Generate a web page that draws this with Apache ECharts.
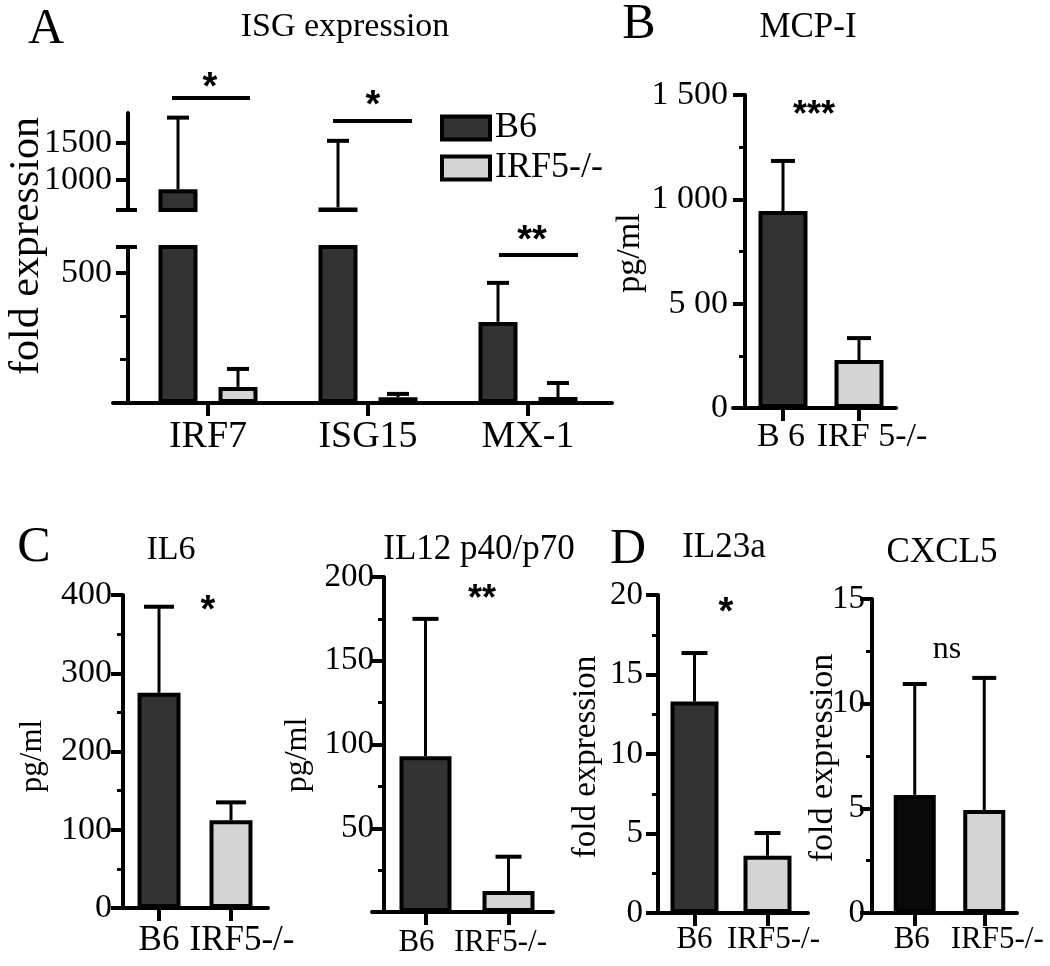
<!DOCTYPE html>
<html><head><meta charset="utf-8">
<script src="https://cdn.jsdelivr.net/npm/echarts@6/dist/echarts.min.js"></script>
<style>html,body{margin:0;padding:0;background:#fff}#c{width:1050px;height:966px}</style>
</head><body><div id="c"></div>
<script>
// ---------- DATA ----------
const A_CATS = ['IRF7', 'ISG15', 'MX-1'];
const A_B6 = [878, 635, 312];
const A_B6_UPPER = [1838, 1527, 462];
const A_KO = [62, 22, 23];
const A_KO_UPPER = [131, 35, 77];
const A_LOWER_TICKS = [500, 600];
const A_LOWER_MINOR = [166.67, 333.33];
const A_LOWER_LABELS = [500];
const A_UPPER_TICKS = [600, 1000, 1500];
const A_UPPER_LABELS = [1000, 1500];
const LEGEND_NAMES = ['B6', 'IRF5-/-'];

const B_CATS = ['B 6', 'IRF 5-/-'];
const B_VALS = [944, 230];
const B_UPPER = [1184, 335];
const B_TICK_TEXT = { 0: '0', 500: '5 00', 1000: '1 000', 1500: '1 500' };

const GROUP_CATS = ['B6', 'IRF5-/-'];
const IL6_VALS = [275, 112];
const IL6_UPPER = [385, 135];
const IL12_VALS = [93, 12.5];
const IL12_UPPER = [175, 33];
const IL12_LABELS = [50, 100, 150, 200];
const IL23_VALS = [13.3, 3.6];
const IL23_UPPER = [16.35, 5.03];
const CXCL5_VALS = [5.64, 4.92];
const CXCL5_UPPER = [10.94, 11.23];

// ---------- STYLE ----------
const SERIF = '"Liberation Serif", "Times New Roman", serif';
const DARK = '#333333', LIGHT = '#d4d4d4', BLACK = '#0a0a0a';
const LINE = { color: '#000', width: 4 };

const grids = [], xAxes = [], yAxes = [], series = [];
const addGrid = g => (grids.push(g), grids.length - 1);
const addX = a => (xAxes.push(a), xAxes.length - 1);
const addY = a => (yAxes.push(a), yAxes.length - 1);

function errRender(offsetPx, capHalf) {
  return function (params, api) {
    const c = api.value(0), m = api.value(1), u = api.value(2);
    const p0 = api.coord([c, m]), p1 = api.coord([c, u]);
    const x = p0[0] + offsetPx;
    return { type: 'group', children: [
      { type: 'line', shape: { x1: x, y1: p0[1], x2: x, y2: p1[1] }, style: { stroke: '#000', lineWidth: 3 } },
      { type: 'line', shape: { x1: x - capHalf, y1: p1[1], x2: x + capHalf, y2: p1[1] }, style: { stroke: '#000', lineWidth: 4 } }
    ]};
  };
}

function helperLine(left, width, top, height) {
  const g = addGrid({ left, top, width, height });
  addX({ type: 'value', gridIndex: g, min: 0, max: 1, axisLine: { show: true, onZero: false, lineStyle: LINE },
         axisTick: { show: false }, axisLabel: { show: false }, splitLine: { show: false } });
  addY({ type: 'value', gridIndex: g, min: 0, max: 1, show: false });
}

function mainY(g, o) {
  const ax = { type: 'value', gridIndex: g, position: 'left', min: o.min, max: o.max, offset: o.offset || 0,
    axisLine: { show: true, onZero: false, lineStyle: LINE },
    axisTick: { show: true, length: 12, lineStyle: { color: '#000', width: 4 } },
    minorTick: { show: !!o.minor, splitNumber: 2, length: 6, lineStyle: { color: '#000', width: 3 } },
    axisLabel: { margin: o.margin, fontFamily: SERIF, fontSize: o.fontSize, color: '#000', formatter: o.fmt || (v => String(v)) },
    splitLine: { show: false }, minorSplitLine: { show: false } };
  if (o.interval) ax.interval = o.interval;
  if (o.ticks) ax.axisTick.customValues = o.ticks;
  if (o.labels) ax.axisLabel.customValues = o.labels;
  return addY(ax);
}
function extraTicks(g, min, max, vals, len, inside, width) {
  return addY({ type: 'value', gridIndex: g, position: 'left', offset: 0, min, max,
    axisLine: { show: false },
    axisTick: { show: true, inside: !!inside, length: len, customValues: vals, lineStyle: { color: '#000', width: width } },
    axisLabel: { show: false }, splitLine: { show: false } });
}
function catX(g, cats, o) {
  const sh = o.shift || [0, 0];
  const names = cats.map((c, i) => 'c' + i);
  const rich = {};
  cats.forEach((c, i) => {
    const s = sh[i];
    rich['c' + i] = { fontFamily: SERIF, fontSize: o.fontSize, color: '#000',
      padding: [0, s < 0 ? -2 * s : 0, 0, s > 0 ? 2 * s : 0] };
  });
  return addX({ type: 'category', gridIndex: g, data: cats, show: o.show !== false,
    axisLine: { show: false, onZero: false },
    axisTick: { show: true, alignWithLabel: true, length: 13, lineStyle: { color: '#000', width: 4 } },
    axisLabel: { interval: 0, margin: o.margin, fontFamily: SERIF, fontSize: o.fontSize, color: '#000',
      formatter: (v, i) => '{' + names[i] + '|' + v + '}', rich },
    splitLine: { show: false } });
}

// ---------- PANEL A (broken axis) ----------
const A_BAR_W = 39, A_GAP = 21;
const A_OFF = (A_BAR_W + A_GAP) / 2;
function aSeries(xi, yi) {
  series.push({ type: 'bar', name: LEGEND_NAMES[0], xAxisIndex: xi, yAxisIndex: yi, data: A_B6, barWidth: A_BAR_W,
    barGap: (A_GAP / A_BAR_W * 100) + '%', clip: true, itemStyle: { color: DARK, borderColor: '#000', borderWidth: 4 } });
  series.push({ type: 'bar', name: LEGEND_NAMES[1], xAxisIndex: xi, yAxisIndex: yi, data: A_KO, barWidth: A_BAR_W,
    clip: true, itemStyle: { color: LIGHT, borderColor: '#000', borderWidth: 4 } });
  series.push({ type: 'custom', xAxisIndex: xi, yAxisIndex: yi, clip: true, z: 3, renderItem: errRender(-A_OFF, 11),
    data: A_CATS.map((c, i) => [i, A_B6[i], A_B6_UPPER[i]]) });
  series.push({ type: 'custom', xAxisIndex: xi, yAxisIndex: yi, clip: true, z: 3, renderItem: errRender(A_OFF, 11),
    data: A_CATS.map((c, i) => [i, A_KO[i], A_KO_UPPER[i]]) });
}
{
  const gU = addGrid({ left: 128, top: 113, width: 480, height: 97 });
  const xU = catX(gU, A_CATS, { show: false, margin: 15, fontSize: 38 });
  const yU = mainY(gU, { min: 600, max: 1900, ticks: A_UPPER_TICKS, labels: A_UPPER_LABELS, margin: 16, fontSize: 34 });
  extraTicks(gU, 600, 1900, [600], 9, true, 4);
  aSeries(xU, yU);
  const gL = addGrid({ left: 128, top: 247, width: 480, height: 156 });
  const xL = catX(gL, A_CATS, { margin: 15, fontSize: 38 });
  const yL = mainY(gL, { min: 0, max: 600, ticks: A_LOWER_TICKS, labels: A_LOWER_LABELS, margin: 16, fontSize: 34 });
  extraTicks(gL, 0, 600, A_LOWER_MINOR, 8, false, 3);
  extraTicks(gL, 0, 600, [600], 9, true, 4);
  aSeries(xL, yL);
  helperLine(113, 499, 247, 156);
}

// ---------- single-series panels ----------
function panel(o) {
  const g = addGrid({ left: o.left, top: o.top, width: o.width, height: o.height });
  const xi = catX(g, o.cats, { margin: o.xMargin, fontSize: o.xFont, shift: o.shift });
  const yi = mainY(g, { min: 0, max: o.max, interval: o.interval, minor: true, labels: o.labels, fmt: o.fmt,
    margin: o.yMargin, fontSize: o.yFont, offset: o.offset });
  series.push({ type: 'bar', name: o.name, xAxisIndex: xi, yAxisIndex: yi, barWidth: o.barW,
    data: o.vals.map((v, i) => ({ value: v, itemStyle: { color: o.colors[i] } })),
    itemStyle: { borderColor: '#000', borderWidth: 4 } });
  series.push({ type: 'custom', xAxisIndex: xi, yAxisIndex: yi, z: 3, renderItem: errRender(0, o.cap),
    data: o.vals.map((v, i) => [i, v, o.upper[i]]) });
  helperLine(o.lineLeft, o.lineWidth, o.top, o.height);
}

panel({ name: 'MCP-I', cats: B_CATS, vals: B_VALS, upper: B_UPPER, colors: [DARK, LIGHT],
  left: 745, top: 95, width: 152, height: 313, max: 1500, interval: 500, fmt: v => B_TICK_TEXT[v],
  yMargin: 17, yFont: 34, xMargin: 12, xFont: 34, shift: [-2, 13], barW: 49, cap: 12, lineLeft: 733, lineWidth: 163 });
panel({ name: 'IL6', cats: GROUP_CATS, vals: IL6_VALS, upper: IL6_UPPER, colors: [DARK, LIGHT],
  left: 123, top: 595, width: 144, height: 313, max: 400, interval: 100, shift: [0, 11],
  yMargin: 11, yFont: 34, xMargin: 15, xFont: 35, barW: 43, cap: 15, lineLeft: 113, lineWidth: 155 });
panel({ name: 'IL12 p40/p70', cats: GROUP_CATS, vals: IL12_VALS, upper: IL12_UPPER, colors: [DARK, LIGHT],
  left: 384, top: 577, width: 166, height: 335, max: 200, interval: 50, labels: IL12_LABELS, shift: [-9, -8],
  yMargin: 10, yFont: 33, xMargin: 15, xFont: 31, barW: 52, cap: 13, lineLeft: 372, lineWidth: 181 });
panel({ name: 'IL23a', cats: GROUP_CATS, vals: IL23_VALS, upper: IL23_UPPER, colors: [DARK, LIGHT],
  left: 658, top: 595, width: 146, height: 318, max: 20, interval: 5, shift: [0, 6],
  yMargin: 15, yFont: 33, xMargin: 11, xFont: 31, barW: 48, cap: 13, lineLeft: 648, lineWidth: 160 });
panel({ name: 'CXCL5', cats: GROUP_CATS, vals: CXCL5_VALS, upper: CXCL5_UPPER, colors: [BLACK, LIGHT],
  left: 880, top: 599, width: 139, height: 314, max: 15, interval: 5, offset: 8, shift: [-3, 13],
  yMargin: 7, yFont: 33, xMargin: 11, xFont: 31, barW: 42, cap: 12, lineLeft: 872, lineWidth: 145 });

// ---------- annotations ----------
function txt(t, x, y, size, opt) {
  opt = opt || {};
  return { type: 'text', x, y, rotation: opt.rot || 0, z: 10,
    style: { text: t, fill: '#000', align: 'center', verticalAlign: 'middle',
      font: (opt.bold ? 'bold ' : '') + size + 'px ' + (opt.sans ? '"Liberation Sans", Arial, sans-serif' : SERIF) } };
}
function hline(x1, x2, y) {
  return { type: 'line', z: 10, shape: { x1, y1: y, x2, y2: y }, style: { stroke: '#000', lineWidth: 4 } };
}
const STAR = { sans: true, bold: true };
const R = Math.PI / 2;
const graphic = [
  txt('A', 46, 30, 50), txt('ISG expression', 345, 27, 34), txt('fold expression', 27, 246, 42, { rot: R }),
  hline(172, 250, 98), txt('*', 210, 89, 38, STAR),
  hline(333, 412, 121), txt('*', 373, 107, 38, STAR),
  hline(499, 578, 255), txt('**', 532, 242, 38, STAR),
  txt('B', 639, 25, 50), txt('MCP-I', 808, 28, 35), txt('***', 814, 116, 36, STAR), txt('pg/ml', 630, 253, 34, { rot: R }),
  txt('C', 34, 548, 50), txt('IL6', 171, 550, 34), txt('*', 208, 612, 38, STAR), txt('pg/ml', 33, 756, 31, { rot: R }),
  txt('IL12 p40/p70', 479, 550, 35), txt('**', 482, 600, 36, STAR), txt('pg/ml', 298, 755, 32, { rot: R }),
  txt('D', 628, 550, 50), txt('IL23a', 724, 548, 35), txt('*', 726, 614, 38, STAR), txt('fold expression', 586, 757, 33, { rot: R }),
  txt('CXCL5', 942, 553, 35), txt('ns', 947, 650, 32), txt('fold expression', 823, 758, 34, { rot: R })
];

const chart = echarts.init(document.getElementById('c'), null, { renderer: 'canvas' });
chart.setOption({
  animation: false,
  backgroundColor: '#fff',
  legend: { data: LEGEND_NAMES, orient: 'vertical', left: 435, top: 105, icon: 'rect', itemWidth: 48, itemHeight: 23,
    itemGap: 4, selectedMode: false, itemStyle: { borderColor: '#000', borderWidth: 4 },
    textStyle: { fontFamily: SERIF, fontSize: 36, color: '#000' } },
  grid: grids, xAxis: xAxes, yAxis: yAxes, series, graphic
});
</script></body></html>
